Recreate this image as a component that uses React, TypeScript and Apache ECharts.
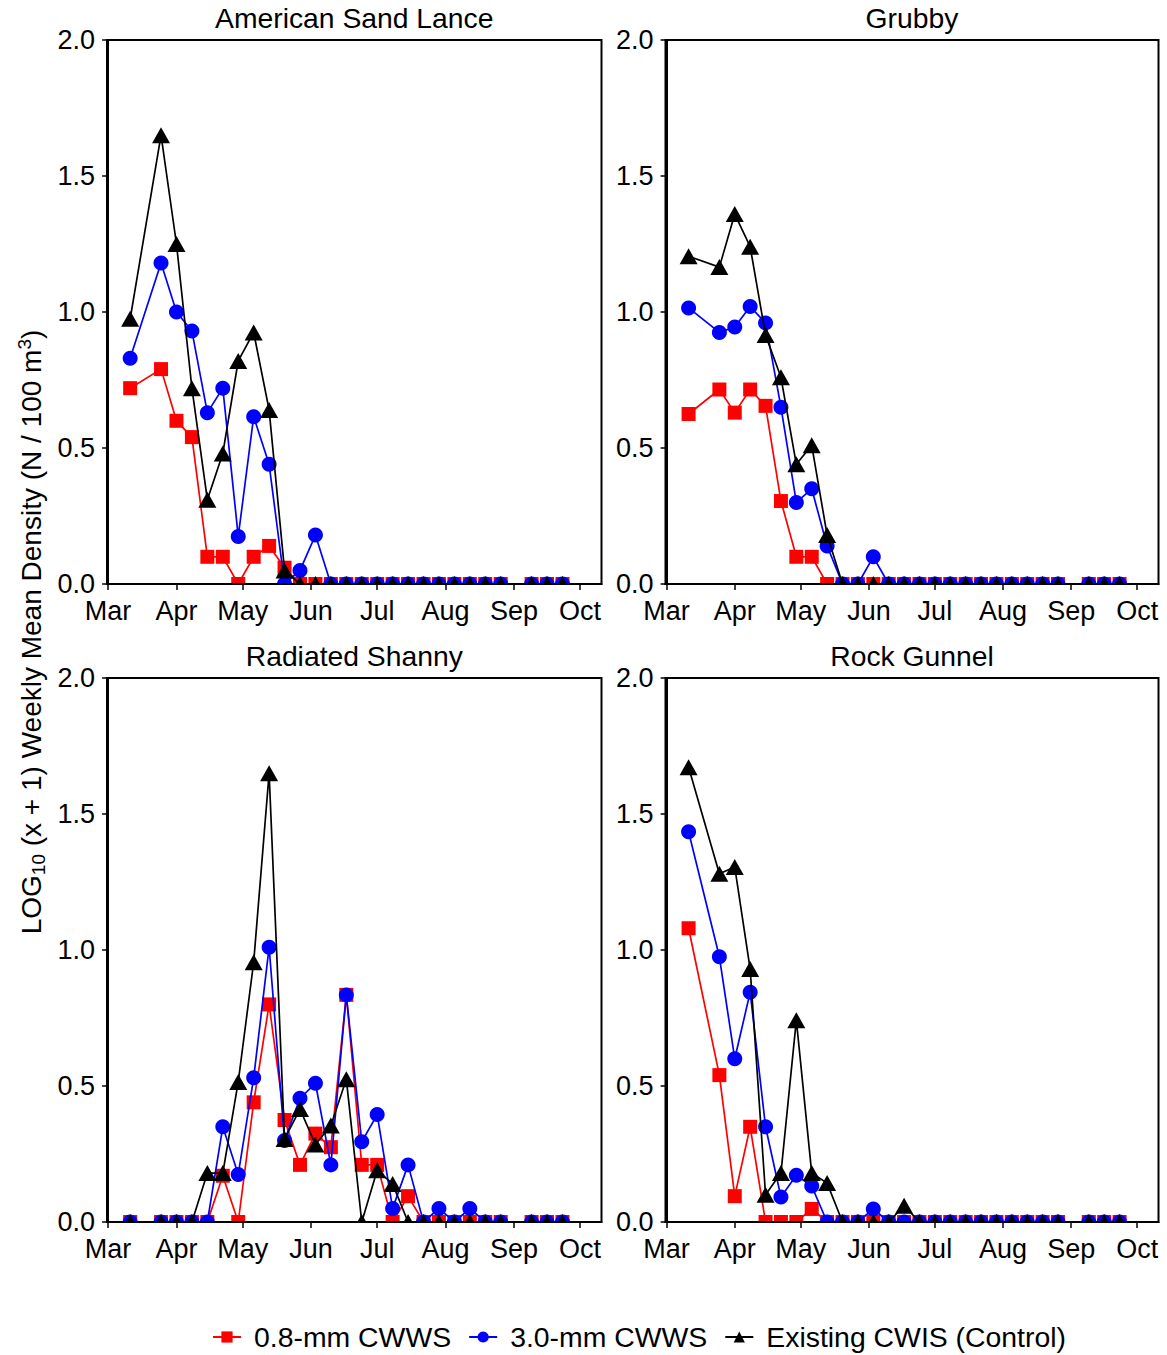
import React, { useEffect, useRef } from "react";
import * as echarts from "echarts";

// Sampling day, counted in days from 1 March (185 = week without a sample)
const sampleDay = [10, 24, 31, 38, 45, 52, 59, 66, 73, 80, 87, 94, 101, 108, 115, 122, 129, 136, 143, 150, 157, 164, 171, 178, 185, 192, 199, 206];

const monthStart = [0, 31, 61, 92, 122, 153, 184, 214];
const monthLabels = ["Mar", "Apr", "May", "Jun", "Jul", "Aug", "Sep", "Oct"];
const yTicks = [0, 0.5, 1.0, 1.5, 2.0];

const seriesNames = ["0.8-mm CWWS", "3.0-mm CWWS", "Existing CWIS (Control)"];
const panelTitles = ["American Sand Lance", "Grubby", "Radiated Shanny", "Rock Gunnel"];

// American Sand Lance
const sandLanceFine = [0.72, 0.79, 0.60, 0.54, 0.10, 0.10, 0, 0.10, 0.14, 0.06, 0, 0, 0, 0, 0, 0, 0, 0, 0, 0, 0, 0, 0, 0, null, 0, 0, 0];
const sandLanceCoarse = [0.83, 1.18, 1.00, 0.93, 0.63, 0.72, 0.175, 0.615, 0.44, 0, 0.05, 0.18, 0, 0, 0, 0, 0, 0, 0, 0, 0, 0, 0, 0, null, 0, 0, 0];
const sandLanceControl = [0.975, 1.65, 1.25, 0.72, 0.31, 0.48, 0.82, 0.925, 0.64, 0.05, 0, 0, 0, 0, 0, 0, 0, 0, 0, 0, 0, 0, 0, 0, null, 0, 0, 0];

// Grubby
const grubbyFine = [0.625, 0.715, 0.63, 0.715, 0.655, 0.305, 0.10, 0.10, 0, 0, 0, 0, 0, 0, 0, 0, 0, 0, 0, 0, 0, 0, 0, 0, null, 0, 0, 0];
const grubbyCoarse = [1.015, 0.925, 0.945, 1.02, 0.96, 0.65, 0.30, 0.35, 0.14, 0, 0, 0.10, 0, 0, 0, 0, 0, 0, 0, 0, 0, 0, 0, 0, null, 0, 0, 0];
const grubbyControl = [1.205, 1.165, 1.36, 1.24, 0.915, 0.76, 0.44, 0.51, 0.18, 0, 0, 0, 0, 0, 0, 0, 0, 0, 0, 0, 0, 0, 0, 0, null, 0, 0, 0];

// Radiated Shanny
const shannyFine = [0, 0, 0, 0, 0, 0.17, 0, 0.44, 0.80, 0.375, 0.21, 0.325, 0.275, 0.835, 0.21, 0.21, 0, 0.095, 0, 0, 0, 0, 0, 0, null, 0, 0, 0];
const shannyCoarse = [0, 0, 0, 0, 0, 0.35, 0.175, 0.53, 1.01, 0.30, 0.455, 0.51, 0.21, 0.835, 0.295, 0.395, 0.05, 0.21, 0, 0.05, 0, 0.05, 0, 0, null, 0, 0, 0];
const shannyControl = [0, 0, 0, 0, 0.18, 0.18, 0.515, 0.955, 1.65, 0.305, 0.415, 0.285, 0.355, 0.525, 0, 0.19, 0.14, 0, 0, 0, 0, 0, 0, 0, null, 0, 0, 0];

// Rock Gunnel
const gunnelFine = [1.08, 0.54, 0.095, 0.35, 0, 0, 0, 0.048, 0, 0, 0, 0, 0, 0, 0, 0, 0, 0, 0, 0, 0, 0, 0, 0, null, 0, 0, 0];
const gunnelCoarse = [1.435, 0.975, 0.60, 0.845, 0.35, 0.092, 0.172, 0.132, 0, 0, 0, 0.048, 0, 0, 0, 0, 0, 0, 0, 0, 0, 0, 0, 0, null, 0, 0, 0];
const gunnelControl = [1.672, 1.28, 1.305, 0.93, 0.10, 0.18, 0.742, 0.18, 0.143, 0, 0, 0, 0, 0.06, 0, 0, 0, 0, 0, 0, 0, 0, 0, 0, null, 0, 0, 0];

const panelData = [
  [sandLanceFine, sandLanceCoarse, sandLanceControl],
  [grubbyFine, grubbyCoarse, grubbyControl],
  [shannyFine, shannyCoarse, shannyControl],
  [gunnelFine, gunnelCoarse, gunnelControl],
];

const FONT = "'Liberation Sans', Arial, sans-serif";
const colors = ["#ff0000", "#0000ff", "#000000"];
const symbols = ["rect", "circle", "triangle"];
const symbolSizes: any[] = [14, 15, [18, 16]];

const grids = [
  { left: 107, top: 40, width: 494.5, height: 544 },
  { left: 665.5, top: 40, width: 493, height: 544 },
  { left: 107, top: 678, width: 494.5, height: 544 },
  { left: 665.5, top: 678, width: 493, height: 544 },
];

export default function App() {
  const ref = useRef<HTMLDivElement>(null);

  useEffect(() => {
    if (!ref.current) return;
    const chart = echarts.init(ref.current, null, { renderer: "svg" });

    const xAxes = grids.map((_, i) => ({
      type: "value",
      gridIndex: i,
      min: -0.5,
      max: 223.7,
      z: 10,
      axisLine: { show: true, lineStyle: { color: "#000", width: 2 } },
      axisTick: { show: true, length: 6, lineStyle: { color: "#000", width: 1.5 }, customValues: monthStart },
      axisLabel: {
        customValues: monthStart,
        fontSize: 27,
        fontFamily: FONT,
        color: "#000",
        margin: 13,
        formatter: (v: number) => monthLabels[monthStart.indexOf(Math.round(v))] ?? "",
      },
      splitLine: { show: false },
    }));

    const yAxes = grids.map((_, i) => ({
      type: "value",
      gridIndex: i,
      min: 0,
      max: 2,
      interval: 0.5,
      z: 10,
      axisLine: { show: true, lineStyle: { color: "#000", width: 2 } },
      axisTick: { show: true, length: 6, lineStyle: { color: "#000", width: 1.5 }, customValues: yTicks },
      axisLabel: {
        customValues: yTicks,
        fontSize: 27,
        fontFamily: FONT,
        color: "#000",
        margin: 12,
        formatter: (v: number) => v.toFixed(1),
      },
      splitLine: { show: false },
    }));

    const series: any[] = [];
    panelData.forEach((sets, gi) => {
      sets.forEach((vals, si) => {
        series.push({
          type: "line",
          name: seriesNames[si],
          xAxisIndex: gi,
          yAxisIndex: gi,
          data: sampleDay.map((d, k) => [d, vals[k] == null ? "-" : vals[k]]),
          symbol: symbols[si],
          symbolSize: symbolSizes[si],
          showAllSymbol: true,
          connectNulls: false,
          itemStyle: { color: colors[si] },
          lineStyle: { color: colors[si], width: 1.7 },
          z: 2 + si,
        });
      });
    });

    const graphics: any[] = [];
    // masks hiding marker halves below the zero line
    grids.forEach((g) => {
      graphics.push({
        type: "rect",
        z: 6,
        shape: { x: g.left - 1, y: g.top + g.height + 1, width: g.width + 2, height: 10 },
        style: { fill: "#fff" },
        silent: true,
      });
    });
    panelTitles.forEach((t, i) => {
      const g = grids[i];
      graphics.push({
        type: "text",
        z: 20,
        x: g.left + g.width / 2,
        y: g.top - 22,
        style: { text: t, fontSize: 28.3, fontFamily: FONT, fill: "#000", align: "center", verticalAlign: "middle" },
      });
    });
    graphics.push({
      type: "text",
      z: 20,
      x: 31,
      y: 632,
      rotation: Math.PI / 2,
      style: {
        text: "{n|LOG}{sub|10}{n| (x + 1) Weekly Mean Density (N / 100 m}{sup|3}{n|)}",
        fontFamily: FONT,
        fill: "#000",
        align: "center",
        verticalAlign: "middle",
        rich: {
          n: { fontSize: 28, fontFamily: FONT, lineHeight: 33 },
          sub: { fontSize: 19, fontFamily: FONT, lineHeight: 14, verticalAlign: "bottom" },
          sup: { fontSize: 19, fontFamily: FONT, lineHeight: 14, verticalAlign: "top" },
        },
      },
    });

    chart.setOption({
      animation: false,
      backgroundColor: "#fff",
      grid: grids.map((g) => ({ ...g, show: true, borderColor: "#000", borderWidth: 2, backgroundColor: "transparent" })),
      xAxis: xAxes,
      yAxis: yAxes,
      legend: {
        data: seriesNames,
        left: 207,
        top: 1318,
        itemWidth: 28,
        itemHeight: 14,
        itemGap: 17,
        textStyle: { fontSize: 28.4, fontFamily: FONT, color: "#000", padding: [0, 0, 0, 8] },
      },
      graphic: graphics,
      series,
    });

    return () => chart.dispose();
  }, []);

  return <div ref={ref} style={{ position: "absolute", left: 0, top: 0, width: 1167, height: 1355 }} />;
}
